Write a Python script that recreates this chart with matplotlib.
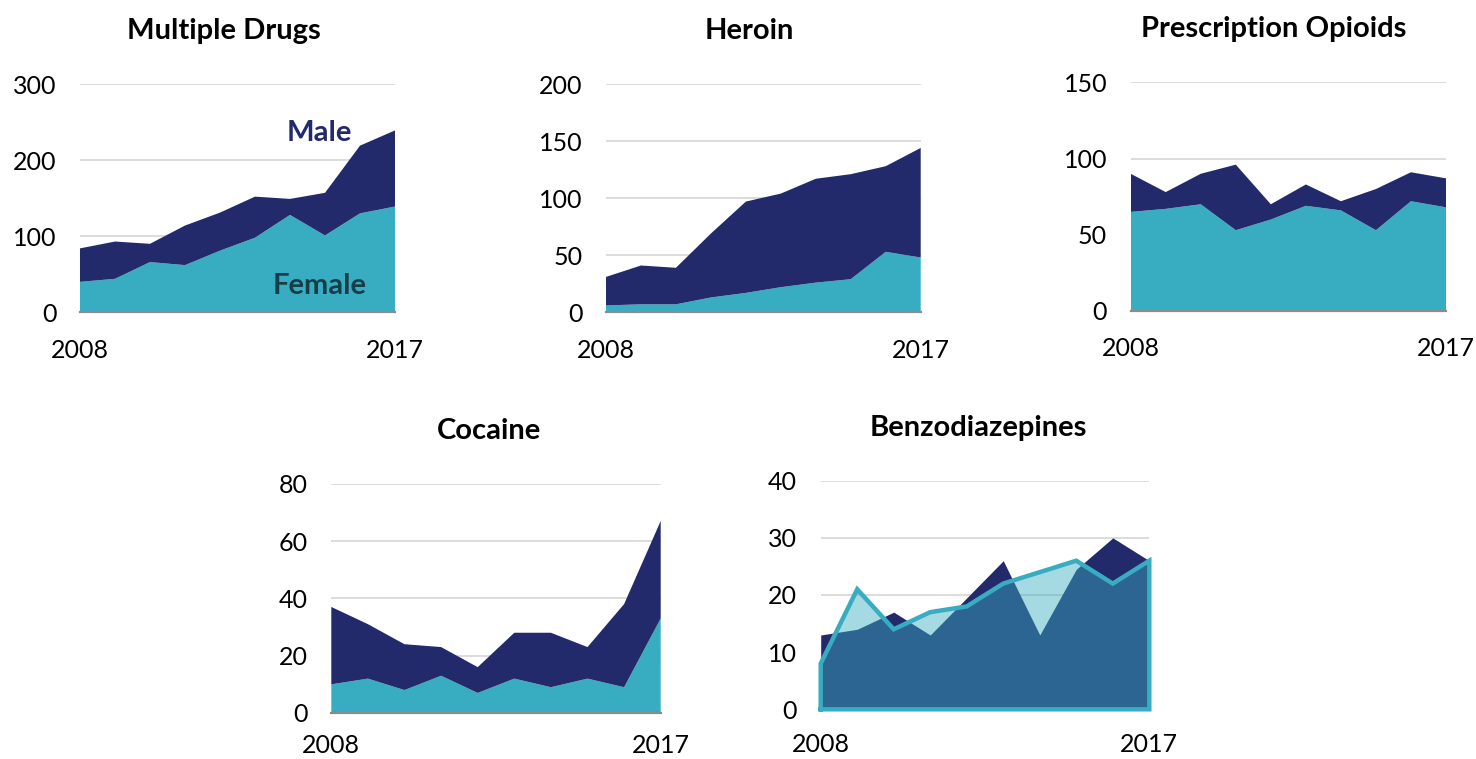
import numpy as np
import matplotlib
matplotlib.use("Agg")
import matplotlib.pyplot as plt
from matplotlib.transforms import offset_copy

plt.rcParams['font.family'] = ['Lato', 'DejaVu Sans']

NAVY = '#232a6c'
TEAL = '#38adc1'
DARK_TEAL = '#173e48'

years = np.arange(2008, 2018)

# Multiple Drugs
multi_female = [40, 44, 66, 62, 81, 98, 128, 101, 130, 139]
multi_total = [84, 93, 90, 114, 131, 152, 149, 157, 219, 239]
multi_male = [t - f for t, f in zip(multi_total, multi_female)]

# Heroin
heroin_female = [6, 7, 7, 13, 17, 22, 26, 29, 53, 48]
heroin_total = [31, 41, 39, 69, 97, 104, 117, 121, 128, 144]
heroin_male = [t - f for t, f in zip(heroin_total, heroin_female)]

# Prescription Opioids
opioid_female = [65, 67, 70, 53, 60, 69, 66, 53, 72, 68]
opioid_total = [90, 78, 90, 96, 70, 83, 72, 80, 91, 87]
opioid_male = [t - f for t, f in zip(opioid_total, opioid_female)]

# Cocaine
cocaine_female = [10, 12, 8, 13, 7, 12, 9, 12, 9, 33]
cocaine_total = [37, 31, 24, 23, 16, 28, 28, 23, 38, 67]
cocaine_male = [t - f for t, f in zip(cocaine_total, cocaine_female)]

# Benzodiazepines (overlapping, not stacked)
benzo_male = [13, 14, 17, 13, 19.5, 26, 13, 24.5, 30, 26]
benzo_female = [8, 21, 14, 17, 18, 22, 24, 26, 22, 26]

fig = plt.figure(figsize=(14.76, 7.59), dpi=100)
W, H = 1476, 759


def make_ax(left, right, bottom, top):
    return fig.add_axes([left / W, 1 - bottom / H, (right - left) / W, (bottom - top) / H])


def style(ax, ymax, step, title, tx, xpad=19):
    ax.set_xlim(2008, 2017)
    ax.set_ylim(0, ymax)
    ax.set_yticks(np.arange(0, ymax + 1, step))
    ax.set_xticks([2008, 2017])
    ax.set_xticklabels(['2008', '2017'])
    ax.tick_params(length=0, labelsize=18)
    ax.tick_params(axis='y', pad=17)
    ax.tick_params(axis='x', pad=xpad)
    for s in ['top', 'right', 'left']:
        ax.spines[s].set_visible(False)
    ax.spines['bottom'].set_color('#8c8c8c')
    ax.spines['bottom'].set_linewidth(1.6)
    ax.spines['bottom'].set_zorder(5)
    ax.grid(axis='y', color='#d9d9d9', linewidth=1.3)
    ax.set_axisbelow(True)
    tr = offset_copy(ax.transAxes, fig=fig, x=0, y=53, units='dots')
    ax.text(tx, 1, title, transform=tr, ha='center', va='center',
            fontsize=21, fontweight='bold')


# Multiple Drugs
ax1 = make_ax(80, 395, 312.3, 84)
ax1.stackplot(years, multi_female, multi_male, colors=[TEAL, NAVY], linewidth=0)
style(ax1, 300, 100, 'Multiple Drugs', 0.457)
ax1.text(2014.85, 236, 'Male', color=NAVY, fontsize=21, fontweight='bold',
         ha='center', va='center')
ax1.text(2014.85, 34, 'Female', color=DARK_TEAL, fontsize=21, fontweight='bold',
         ha='center', va='center')

# Heroin
ax2 = make_ax(606, 920.7, 312.3, 84)
ax2.stackplot(years, heroin_female, heroin_male, colors=[TEAL, NAVY], linewidth=0)
style(ax2, 200, 50, 'Heroin', 0.454)

# Prescription Opioids
ax3 = make_ax(1130.7, 1446, 311, 82.3)
ax3.stackplot(years, opioid_female, opioid_male, colors=[TEAL, NAVY], linewidth=0)
style(ax3, 150, 50, 'Prescription Opioids', 0.455)

# Cocaine
ax4 = make_ax(331.3, 660.7, 713, 483.7)
ax4.stackplot(years, cocaine_female, cocaine_male, colors=[TEAL, NAVY], linewidth=0)
style(ax4, 80, 20, 'Cocaine', 0.48, xpad=15)

# Benzodiazepines
ax5 = make_ax(820.7, 1149.3, 709.3, 480.7)
ax5.fill_between(years, 0, benzo_male, color=NAVY, linewidth=0)
ax5.fill_between(years, 0, benzo_female, color=TEAL, alpha=0.45, linewidth=0)
xs = np.concatenate([[years[0]], years, [years[-1], years[0]]])
ys = np.concatenate([[0], benzo_female, [0, 0]])
ax5.plot(xs, ys, color=TEAL, linewidth=3.2, solid_joinstyle='miter', zorder=6,
         clip_on=False)
style(ax5, 40, 10, 'Benzodiazepines', 0.479, xpad=17)

fig.savefig('out.png', dpi=100)
